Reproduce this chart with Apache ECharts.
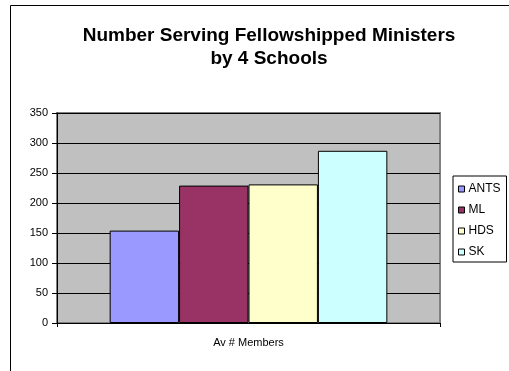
<!DOCTYPE html>
<html><head><meta charset="utf-8">
<script src="https://cdn.jsdelivr.net/npm/echarts@6/dist/echarts.min.js"></script>
<style>html,body{margin:0;padding:0;background:#fff;}#c{width:509px;height:371px;}</style>
</head><body><div id="c"></div>
<script>
const categories = ['Av # Members'];
const seriesNames = ['ANTS', 'ML', 'HDS', 'SK'];
const seriesValues = [[154], [229], [231], [287]];
const seriesColors = ['#9999FF', '#993366', '#FFFFCC', '#CCFFFF'];
const yTicks = {min: 0, max: 350, interval: 50};

const FONT = '"Liberation Sans", Arial, sans-serif';
const chart = echarts.init(document.getElementById('c'), null, {renderer: 'canvas'});
chart.setOption({
  animation: false,
  backgroundColor: '#fff',
  graphic: [{
    type: 'rect', shape: {x: 10.5, y: 5.5, width: 520, height: 400},
    style: {fill: 'none', stroke: '#000', lineWidth: 1}, z: 0
  }],
  title: {
    text: 'Number Serving Fellowshipped Ministers\nby 4 Schools',
    left: 264, top: 19, textAlign: 'center',
    textStyle: {fontFamily: FONT, fontWeight: 'bold', fontSize: 19, lineHeight: 23, color: '#000'}
  },
  legend: {
    orient: 'vertical', left: 453, top: 176,
    padding: [6, 6, 3, 5],
    borderColor: '#000', borderWidth: 1, backgroundColor: '#fff',
    itemWidth: 6, itemHeight: 6, itemGap: 7, icon: 'rect',
    itemStyle: {borderColor: '#000', borderWidth: 1},
    textStyle: {fontFamily: FONT, fontSize: 12, lineHeight: 14, color: '#000', padding: [0, 0, 0, -1]},
    data: seriesNames
  },
  grid: {
    left: 57, right: 69, top: 113, bottom: 48,
    show: true, backgroundColor: '#C0C0C0', borderColor: '#808080', borderWidth: 2
  },
  xAxis: {
    type: 'category', data: categories,
    axisLine: {lineStyle: {color: '#000', width: 1}},
    axisTick: {show: true, length: 4, lineStyle: {color: '#000'}},
    axisLabel: {fontFamily: FONT, fontSize: 11, color: '#000', margin: 14}
  },
  yAxis: {
    type: 'value', min: yTicks.min, max: yTicks.max, interval: yTicks.interval,
    axisLine: {show: true, lineStyle: {color: '#000', width: 1}},
    axisTick: {show: true, length: 5, lineStyle: {color: '#000'}},
    splitLine: {show: true, lineStyle: {color: '#000', width: 1}},
    axisLabel: {fontFamily: FONT, fontSize: 11, color: '#000', margin: 9}
  },
  series: seriesNames.map((n, i) => ({
    name: n, type: 'bar', data: seriesValues[i],
    barGap: '0%', barCategoryGap: '27.5%',
    itemStyle: {color: seriesColors[i], borderColor: '#000', borderWidth: 1}
  }))
});
</script></body></html>
